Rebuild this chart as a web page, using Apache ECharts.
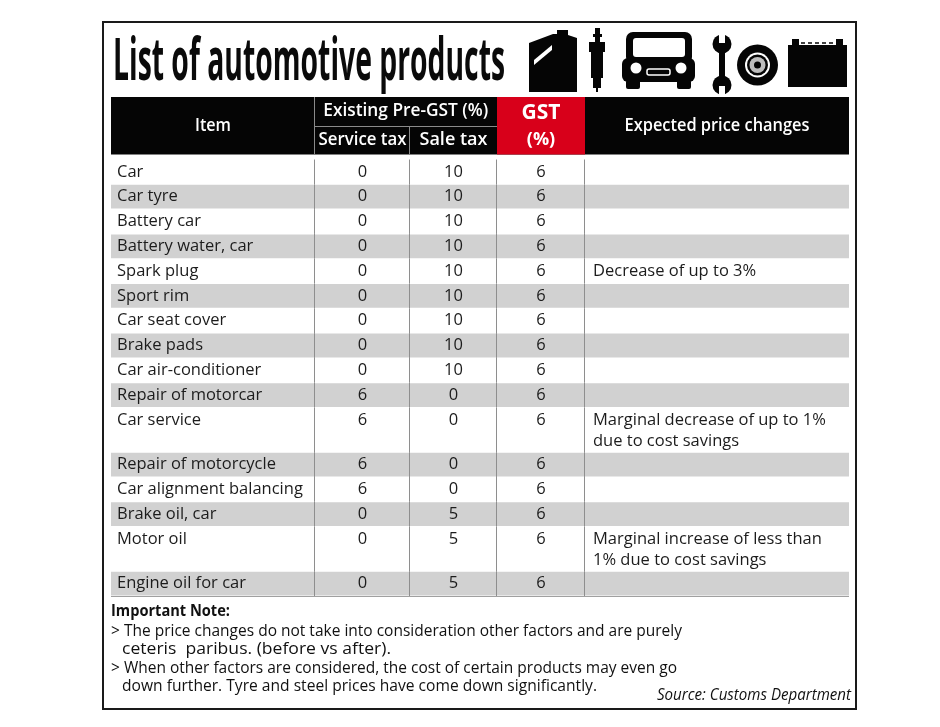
<!DOCTYPE html>
<html><head><meta charset="utf-8">
<script src="https://cdn.jsdelivr.net/npm/echarts@6/dist/echarts.min.js"></script>
<style>html,body{margin:0;padding:0;background:#fff}#chart{width:940px;height:727px}</style>
</head><body><div id="chart"></div>
<script>
// ---------- data ----------
const titleText = 'List of automotive products';
const headerItem = 'Item';
const headerGroup = 'Existing Pre-GST (%)';
const headerService = 'Service tax';
const headerSale = 'Sale tax';
const headerGst = ['GST', '(%)'];
const headerChanges = 'Expected price changes';

const items = ['Car', 'Car tyre', 'Battery car', 'Battery water, car', 'Spark plug', 'Sport rim',
  'Car seat cover', 'Brake pads', 'Car air-conditioner', 'Repair of motorcar', 'Car service',
  'Repair of motorcycle', 'Car alignment balancing', 'Brake oil, car', 'Motor oil', 'Engine oil for car'];
const serviceTax = [0, 0, 0, 0, 0, 0, 0, 0, 0, 6, 6, 6, 6, 0, 0, 0];
const saleTax = [10, 10, 10, 10, 10, 10, 10, 10, 10, 0, 0, 0, 0, 5, 5, 5];
const gstRate = [6, 6, 6, 6, 6, 6, 6, 6, 6, 6, 6, 6, 6, 6, 6, 6];
const priceChanges = ['', '', '', '', 'Decrease of up to 3%', '', '', '', '', '',
  'Marginal decrease of up to 1%\ndue to cost savings', '', '', '',
  'Marginal increase of less than\n1% due to cost savings', ''];

const noteTitle = 'Important Note:';
const noteLines = [
  '> The price changes do not take into consideration other factors and are purely',
  'ceteris  paribus. (before vs after).',
  '> When other factors are considered, the cost of certain products may even go',
  'down further. Tyre and steel prices have come down significantly.'
];
const sourceText = 'Source: Customs Department';

// ---------- layout ----------
const COL_EDGES = [0, 204, 299, 386, 474, 738];
const DOUBLE_ROW = 1.8, LINE_STEP = 0.85;
const HEADER_TOP = -2.52, HEADER_MID = -1.35, HEADER_BOTTOM = -0.2;
const FONT = '"Open Sans", "Noto Sans", sans-serif';
const rowHeight = priceChanges.map(t => t.split('\n').length > 1 ? DOUBLE_ROW : 1);
const rowStart = [];
rowHeight.reduce((acc, h, i) => { rowStart[i] = acc; return acc + h; }, 0);
const totalRows = rowStart[rowStart.length - 1] + rowHeight[rowHeight.length - 1];

const mctx = document.createElement('canvas').getContext('2d');
function fit(text, font, target) { mctx.font = font; return target / mctx.measureText(text).width; }

function colCenter(k) { return (COL_EDGES[k] + COL_EDGES[k + 1]) / 2; }

function renderRow(params, api) {
  const i = api.value(0);
  const y0 = rowStart[i], y1 = y0 + rowHeight[i];
  const tl = api.coord([COL_EDGES[0], y0]);
  const br = api.coord([COL_EDGES[5], y1]);
  const ch = [];
  if (i % 2 === 1) {
    ch.push({ type: 'rect', shape: { x: tl[0], y: tl[1] + 0.5, width: br[0] - tl[0], height: br[1] - tl[1] - 1 },
      style: { fill: '#d1d1d1' } });
  }
  for (let k = 1; k < 5; k++) {
    const a = api.coord([COL_EDGES[k], y0]), b = api.coord([COL_EDGES[k], y1]);
    const x = Math.round(a[0]) - 0.5;
    ch.push({ type: 'line', shape: { x1: x, y1: a[1], x2: x, y2: b[1] }, style: { stroke: '#8e8e8e', lineWidth: 1 } });
  }
  if (i === items.length - 1) {
    ch.push({ type: 'line', shape: { x1: tl[0], y1: Math.round(br[1]) + 0.5, x2: br[0], y2: Math.round(br[1]) + 0.5 },
      style: { stroke: '#a0a0a0', lineWidth: 1 } });
  }
  const ty = api.coord([0, y0 + 0.5])[1];
  const txt = (x, y, text, align) => ({ type: 'text', x: x, y: y,
    style: { text: text, x: 0, y: 0, fill: '#1c1c1c', font: '16.5px ' + FONT, align: align, verticalAlign: 'middle' } });
  ch.push(txt(api.coord([COL_EDGES[0] + 6, 0])[0], ty, items[i], 'left'));
  ch.push(txt(api.coord([colCenter(1), 0])[0], ty, String(serviceTax[i]), 'center'));
  ch.push(txt(api.coord([colCenter(2), 0])[0], ty, String(saleTax[i]), 'center'));
  ch.push(txt(api.coord([colCenter(3), 0])[0], ty, String(gstRate[i]), 'center'));
  priceChanges[i].split('\n').forEach((line, j) => {
    if (!line) return;
    const ly = api.coord([0, y0 + 0.5 + j * LINE_STEP])[1];
    ch.push(txt(api.coord([COL_EDGES[4] + 8, 0])[0], ly, line, 'left'));
  });
  return { type: 'group', children: ch };
}

function renderHeader(params, api) {
  const c = (x, y) => api.coord([x, y]);
  const tl = c(COL_EDGES[0], HEADER_TOP), br = c(COL_EDGES[5], HEADER_BOTTOM);
  const r0 = c(COL_EDGES[3], HEADER_TOP), r1 = c(COL_EDGES[4], HEADER_BOTTOM);
  const mid = c(0, HEADER_MID)[1];
  const ch = [
    { type: 'rect', shape: { x: tl[0], y: tl[1], width: br[0] - tl[0], height: br[1] - tl[1] }, style: { fill: '#050505' } },
    { type: 'rect', shape: { x: r0[0], y: r0[1], width: r1[0] - r0[0], height: r1[1] - r0[1] }, style: { fill: '#d8001a' } }
  ];
  const gl = { stroke: '#8a8a8a', lineWidth: 1 };
  const x1 = Math.round(c(COL_EDGES[1], 0)[0]) - 0.5, x2 = Math.round(c(COL_EDGES[2], 0)[0]) - 0.5;
  const xr = c(COL_EDGES[3], 0)[0];
  ch.push({ type: 'line', shape: { x1: x1, y1: tl[1], x2: x1, y2: br[1] }, style: gl });
  ch.push({ type: 'line', shape: { x1: x2, y1: mid, x2: x2, y2: br[1] }, style: gl });
  ch.push({ type: 'line', shape: { x1: x1, y1: Math.round(mid) + 0.5, x2: xr, y2: Math.round(mid) + 0.5 }, style: gl });
  const hf = '600 17.5px ' + FONT;
  const t = (x, y, text, font, w) => ({ type: 'text', x: x, y: y, scaleX: w ? fit(text, font, w) : 1,
    style: { text: text, x: 0, y: 0, fill: '#fff', font: font, align: 'center', verticalAlign: 'middle' } });
  const midAll = (tl[1] + br[1]) / 2;
  const upper = (tl[1] + mid) / 2, lower = (mid + br[1]) / 2;
  ch.push(t(c(colCenter(0), 0)[0], midAll, headerItem, hf, 36));
  ch.push(t((x1 + xr) / 2, upper, headerGroup, hf, 165));
  ch.push(t(c(colCenter(1), 0)[0], lower, headerService, hf, 88));
  ch.push(t(c(colCenter(2), 0)[0], lower, headerSale, hf, 68));
  ch.push(t(c(colCenter(3), 0)[0], upper + 2, headerGst[0], 'bold 21px ' + FONT));
  ch.push(t(c(colCenter(3), 0)[0], lower, headerGst[1], 'bold 18px ' + FONT));
  ch.push(t(c(colCenter(4), 0)[0], midAll, headerChanges, hf, 185));
  return { type: 'group', children: ch };
}

// ---------- decorative icons ----------
const K = '#050505', W = '#ffffff';
const icons = [
  // jerry can
  { type: 'polygon', shape: { points: [[529, 43], [553, 34], [557, 34], [557, 30], [568, 30], [568, 35], [577, 38], [577, 92], [529, 92]] }, style: { fill: K } },
  { type: 'polygon', shape: { points: [[534, 60], [552, 45], [552, 50], [534, 65]] }, style: { fill: W } },
  // spark plug
  { type: 'rect', shape: { x: 595, y: 28, width: 5, height: 14 }, style: { fill: K } },
  { type: 'rect', shape: { x: 593, y: 34, width: 9, height: 3 }, style: { fill: K } },
  { type: 'rect', shape: { x: 589, y: 42, width: 16, height: 10 }, style: { fill: K } },
  { type: 'rect', shape: { x: 591, y: 52, width: 12, height: 26 }, style: { fill: K } },
  { type: 'rect', shape: { x: 593, y: 78, width: 8, height: 10 }, style: { fill: K } },
  { type: 'rect', shape: { x: 596, y: 88, width: 2, height: 4 }, style: { fill: K } },
  // car front
  { type: 'rect', shape: { x: 626, y: 32, width: 66, height: 32, r: 7 }, style: { fill: K } },
  { type: 'rect', shape: { x: 633, y: 38, width: 52, height: 19, r: 3 }, style: { fill: W } },
  { type: 'rect', shape: { x: 622, y: 58, width: 73, height: 24, r: 6 }, style: { fill: K } },
  { type: 'circle', shape: { cx: 636, cy: 68, r: 5.5 }, style: { fill: W } },
  { type: 'circle', shape: { cx: 681, cy: 68, r: 5.5 }, style: { fill: W } },
  { type: 'rect', shape: { x: 647, y: 69, width: 23, height: 6, r: 2 }, style: { fill: K, stroke: W, lineWidth: 1.5 } },
  { type: 'rect', shape: { x: 626, y: 80, width: 14, height: 9, r: 2 }, style: { fill: K } },
  { type: 'rect', shape: { x: 677, y: 80, width: 14, height: 9, r: 2 }, style: { fill: K } },
  // wrench
  { type: 'rect', shape: { x: 719, y: 44, width: 6, height: 42 }, style: { fill: K } },
  { type: 'circle', shape: { cx: 722, cy: 44, r: 9.5 }, style: { fill: K } },
  { type: 'rect', shape: { x: 719, y: 33, width: 6, height: 10 }, style: { fill: W } },
  { type: 'circle', shape: { cx: 722, cy: 85, r: 9.5 }, style: { fill: K } },
  { type: 'rect', shape: { x: 719, y: 86, width: 6, height: 10 }, style: { fill: W } },
  // tyre
  { type: 'circle', shape: { cx: 757.5, cy: 65, r: 20.5 }, style: { fill: K } },
  { type: 'circle', shape: { cx: 757.5, cy: 65, r: 12.5 }, style: { fill: W } },
  { type: 'circle', shape: { cx: 757.5, cy: 65, r: 10.5 }, style: { fill: K } },
  { type: 'circle', shape: { cx: 757.5, cy: 65, r: 8 }, style: { fill: '#bdbdbd' } },
  { type: 'circle', shape: { cx: 757.5, cy: 65, r: 3.5 }, style: { fill: K } },
  // battery
  { type: 'rect', shape: { x: 788, y: 45, width: 59, height: 42 }, style: { fill: K } },
  { type: 'rect', shape: { x: 792, y: 39, width: 7, height: 7 }, style: { fill: K } },
  { type: 'rect', shape: { x: 836, y: 39, width: 7, height: 7 }, style: { fill: K } },
  { type: 'line', shape: { x1: 801, y1: 43, x2: 834, y2: 43 }, style: { stroke: K, lineWidth: 1.5, lineDash: [4, 3] } }
];

// ---------- texts outside the table ----------
const titleFont = 'bold 59px ' + FONT;
const noteFont = '15.5px ' + FONT;
const noteTargets = [571, 269, 566, 475];
const noteY = [632, 650, 669, 687];
const texts = [
  { type: 'text', x: 113, y: 63, scaleX: fit(titleText, titleFont, 392),
    style: { text: titleText, x: 0, y: 0, font: titleFont, fill: '#0a0a0a', align: 'left', verticalAlign: 'middle' } },
  { type: 'text', x: 111, y: 612, scaleX: fit(noteTitle, 'bold ' + noteFont, 119),
    style: { text: noteTitle, x: 0, y: 0, font: 'bold ' + noteFont, fill: '#111', align: 'left', verticalAlign: 'middle' } }
];
noteLines.forEach((line, i) => {
  const ind = line.startsWith('>') ? 111 : 122;
  texts.push({ type: 'text', x: ind, y: noteY[i], scaleX: fit(line, noteFont, noteTargets[i]),
    style: { text: line, x: 0, y: 0, font: noteFont, fill: '#111', align: 'left', verticalAlign: 'middle' } });
});
texts.push({ type: 'text', x: 851, y: 696, scaleX: fit(sourceText, 'italic ' + noteFont, 194),
  style: { text: sourceText, x: 0, y: 0, font: 'italic ' + noteFont, fill: '#111', align: 'right', verticalAlign: 'middle' } });

const chart = echarts.init(document.getElementById('chart'), null, { renderer: 'canvas' });
chart.setOption({
  backgroundColor: '#fff',
  animation: false,
  grid: { left: 111, right: 91, top: 97, bottom: 131 },
  xAxis: { type: 'value', min: COL_EDGES[0], max: COL_EDGES[5], show: false },
  yAxis: { type: 'value', min: HEADER_TOP, max: totalRows, inverse: true, show: false },
  graphic: [
    { type: 'rect', z: -10, shape: { x: 103, y: 22, width: 753, height: 687 }, style: { fill: '#fff', stroke: '#1a1a1a', lineWidth: 2 } }
  ].concat(icons, texts),
  series: [
    { type: 'custom', name: 'header', silent: true, data: [[0]], renderItem: renderHeader, clip: false },
    { type: 'custom', name: 'rows', silent: true, data: items.map((_, i) => [i]), renderItem: renderRow, clip: false }
  ]
});
</script></body></html>
